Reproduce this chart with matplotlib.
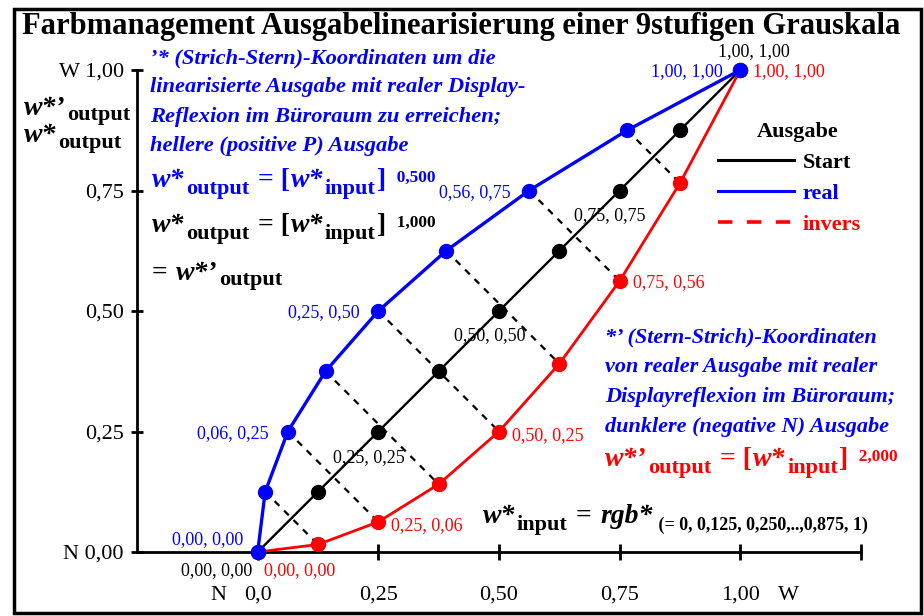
import numpy as np
import matplotlib
matplotlib.use("Agg")
import matplotlib.pyplot as plt
from matplotlib.lines import Line2D
from matplotlib.patches import Rectangle

# 9 steps of the grey scale
w_in = [0.0, 0.125, 0.25, 0.375, 0.5, 0.625, 0.75, 0.875, 1.0]
start_out = [0.0, 0.125, 0.25, 0.375, 0.5, 0.625, 0.75, 0.875, 1.0]
# real output (blue): exponent 0,500 -> drawn as (w_out, w_in)
real_x = [0.0, 0.0156, 0.0625, 0.1406, 0.25, 0.3906, 0.5625, 0.7656, 1.0]
real_y = [0.0, 0.125, 0.25, 0.375, 0.5, 0.625, 0.75, 0.875, 1.0]
# inverse output (red): exponent 2,000
inv_x = [0.0, 0.125, 0.25, 0.375, 0.5, 0.625, 0.75, 0.875, 1.0]
inv_y = [0.0, 0.0156, 0.0625, 0.1406, 0.25, 0.3906, 0.5625, 0.7656, 1.0]

x_ticks = [0.0, 0.25, 0.5, 0.75, 1.0, 1.25]
x_ticklabels = ["0,0", "0,25", "0,50", "0,75", "1,00", ""]
y_ticks = [0.0, 0.25, 0.5, 0.75, 1.0]
y_ticklabels = ["N 0,00", "0,25", "0,50", "0,75", "W 1,00"]

W, H = 924, 616
SERIF = "Liberation Serif"
plt.rcParams["font.family"] = [SERIF, "DejaVu Serif"]

fig = plt.figure(figsize=(W / 100, H / 100), dpi=100)
ax = fig.add_axes([137 / W, 64 / H, 724 / W, 482 / H])
ax.set_xlim(-0.25, 1.25)
ax.set_ylim(0, 1)
for s in ["top", "right"]:
    ax.spines[s].set_visible(False)
for s in ["left", "bottom"]:
    ax.spines[s].set_linewidth(2)
ax.set_xticks(x_ticks)
ax.set_xticklabels(x_ticklabels)
ax.set_yticks(y_ticks)
ax.set_yticklabels(y_ticklabels)
ax.tick_params(axis="x", direction="inout", length=11, width=2, pad=19, labelsize=16)
ax.tick_params(axis="y", direction="inout", length=9, width=2, pad=5, labelsize=16)
ax.text(-0.082, -0.1, "N", ha="center", va="baseline", fontsize=16, transform=ax.transData)
ax.text(1.10, -0.1, "W", ha="center", va="baseline", fontsize=16, transform=ax.transData)

# dashed connectors between real and inverse points
for i in range(1, len(w_in) - 1):
    ax.plot([real_x[i], inv_x[i]], [real_y[i], inv_y[i]], color="black", lw=1.6,
            ls=(0, (3, 3)), zorder=2)

ax.plot(w_in, start_out, color="black", lw=1.7, marker="o", ms=10, clip_on=False, zorder=3)
ax.plot(inv_x, inv_y, color="red", lw=2.0, marker="o", ms=10, clip_on=False, zorder=3)
ax.plot(real_x, real_y, color="blue", lw=2.4, marker="o", ms=10, clip_on=False, zorder=4)


def fmt(v):
    return f"{v:.2f}".replace(".", ",")


def label(x, y, color, dx, dy, ha="center"):
    # dx, dy in pixels
    ax.annotate(f"{fmt(x)}, {fmt(y)}", (x, y), xytext=(dx * 0.72, dy * 0.72),
                textcoords="offset points", ha=ha, va="center", color=color,
                fontsize=13, annotation_clip=False)


for i, dx, dy in [(0, -50, 12), (2, -19, -2), (4, -19, -2), (6, -19, -2), (8, -18, -2)]:
    label(real_x[i], real_y[i], "blue", dx, dy, "right" if i else "center")
for i, dx, dy in [(2, 13, -4), (4, 13, -4), (6, 13, -2), (8, 13, -2)]:
    label(inv_x[i], inv_y[i], "red", dx, dy, "left")
label(inv_x[0], inv_y[0], "red", 42, -19)
for i, dx, dy in [(0, -41, -19), (2, -9, -26), (4, -9, -25), (6, -10, -25), (8, 14, 18)]:
    label(w_in[i], start_out[i], "black", dx, dy)

# legend
handles = [Line2D([], [], color="black", lw=2.2),
           Line2D([], [], color="blue", lw=2.2),
           Line2D([], [], color="red", lw=2.6, ls=(0, (4, 4)))]
leg = ax.legend(handles, ["Start", "real", "invers"], loc="upper left",
                bbox_to_anchor=(718 / W, 1 - 152 / H), bbox_transform=fig.transFigure,
                frameon=False, handlelength=3.4, handletextpad=0.4,
                labelspacing=0.47, borderpad=0, borderaxespad=0,
                labelcolor=["black", "blue", "red"],
                prop={"family": SERIF, "weight": "bold", "size": 16})
fig.text(798 / W, 1 - 137 / H, "Ausgabe", fontsize=16, weight="bold", ha="center",
         va="baseline")

# texts placed in figure pixels (origin top left)
renderer = fig.canvas.get_renderer()
STY = {"b": ("normal", "bold"), "bi": ("italic", "bold"), "r": ("normal", "normal")}


def chain(x, y, pieces, color):
    for s, size, sty, dy in pieces:
        style, weight = STY[sty]
        t = fig.text(x / W, 1 - (y - dy) / H, s, fontsize=size, style=style,
                     weight=weight, color=color, va="baseline", ha="left",
                     family=SERIF)
        x += t.get_window_extent(renderer).width + 1.5


def equation(x, y, lhs, exp, color):
    chain(x, y, [(lhs, 20, "bi", 0), ("output", 16, "b", -7), (" = [", 20, "b", 0),
                 ("w*", 20, "bi", 0), ("input", 16, "b", -7), ("]", 20, "b", 0),
                 ("  " + exp, 12.5, "b", 5)], color)


fig.text(22 / W, 1 - 34 / H, "Farbmanagement Ausgabelinearisierung einer 9stufigen Grauskala",
         fontsize=22, weight="bold", va="baseline", ha="left")

chain(24, 115, [("w*’", 20, "bi", 0), ("output", 16, "b", -5)], "black")
chain(24, 142, [("w*", 20, "bi", 0), ("output", 16, "b", -6)], "black")

blue_lines = ["’* (Strich-Stern)-Koordinaten um die",
              "linearisierte Ausgabe mit realer Display-",
              "Reflexion im Büroraum zu erreichen;",
              "hellere (positive P) Ausgabe"]
for k, s in enumerate(blue_lines):
    fig.text(150 / W, 1 - (63 + 29.3 * k) / H, s, fontsize=16.2, style="italic",
             weight="bold", color="blue", va="baseline")

equation(152, 187, "w*", "0,500", "blue")
equation(152, 232, "w*", "1,000", "black")
chain(152, 280, [("= ", 20, "b", 0), ("w*’", 20, "bi", 0), ("output", 16, "b", -5)], "black")

right_lines = ["*’ (Stern-Strich)-Koordinaten",
               "von realer Ausgabe mit realer",
               "Displayreflexion im Büroraum;",
               "dunklere (negative N) Ausgabe"]
for k, s in enumerate(right_lines):
    fig.text(605 / W, 1 - (342 + 30 * k) / H, s, fontsize=16, style="italic",
             weight="bold", color="blue", va="baseline")

equation(605, 466, "w*’", "2,000", "red")

chain(483, 523, [("w*", 20, "bi", 0), ("input", 16, "b", -7), (" = ", 20, "b", 0),
                 ("rgb*", 20, "bi", 0), (" (= 0, 0,125, 0,250,..,0,875, 1)", 13, "b", -7)],
      "black")

fig.patches.append(Rectangle((14 / W, 3 / H), 907 / W, 604 / H, transform=fig.transFigure,
                             fill=False, lw=2.5, edgecolor="black"))

fig.savefig("out.png", dpi=100)
